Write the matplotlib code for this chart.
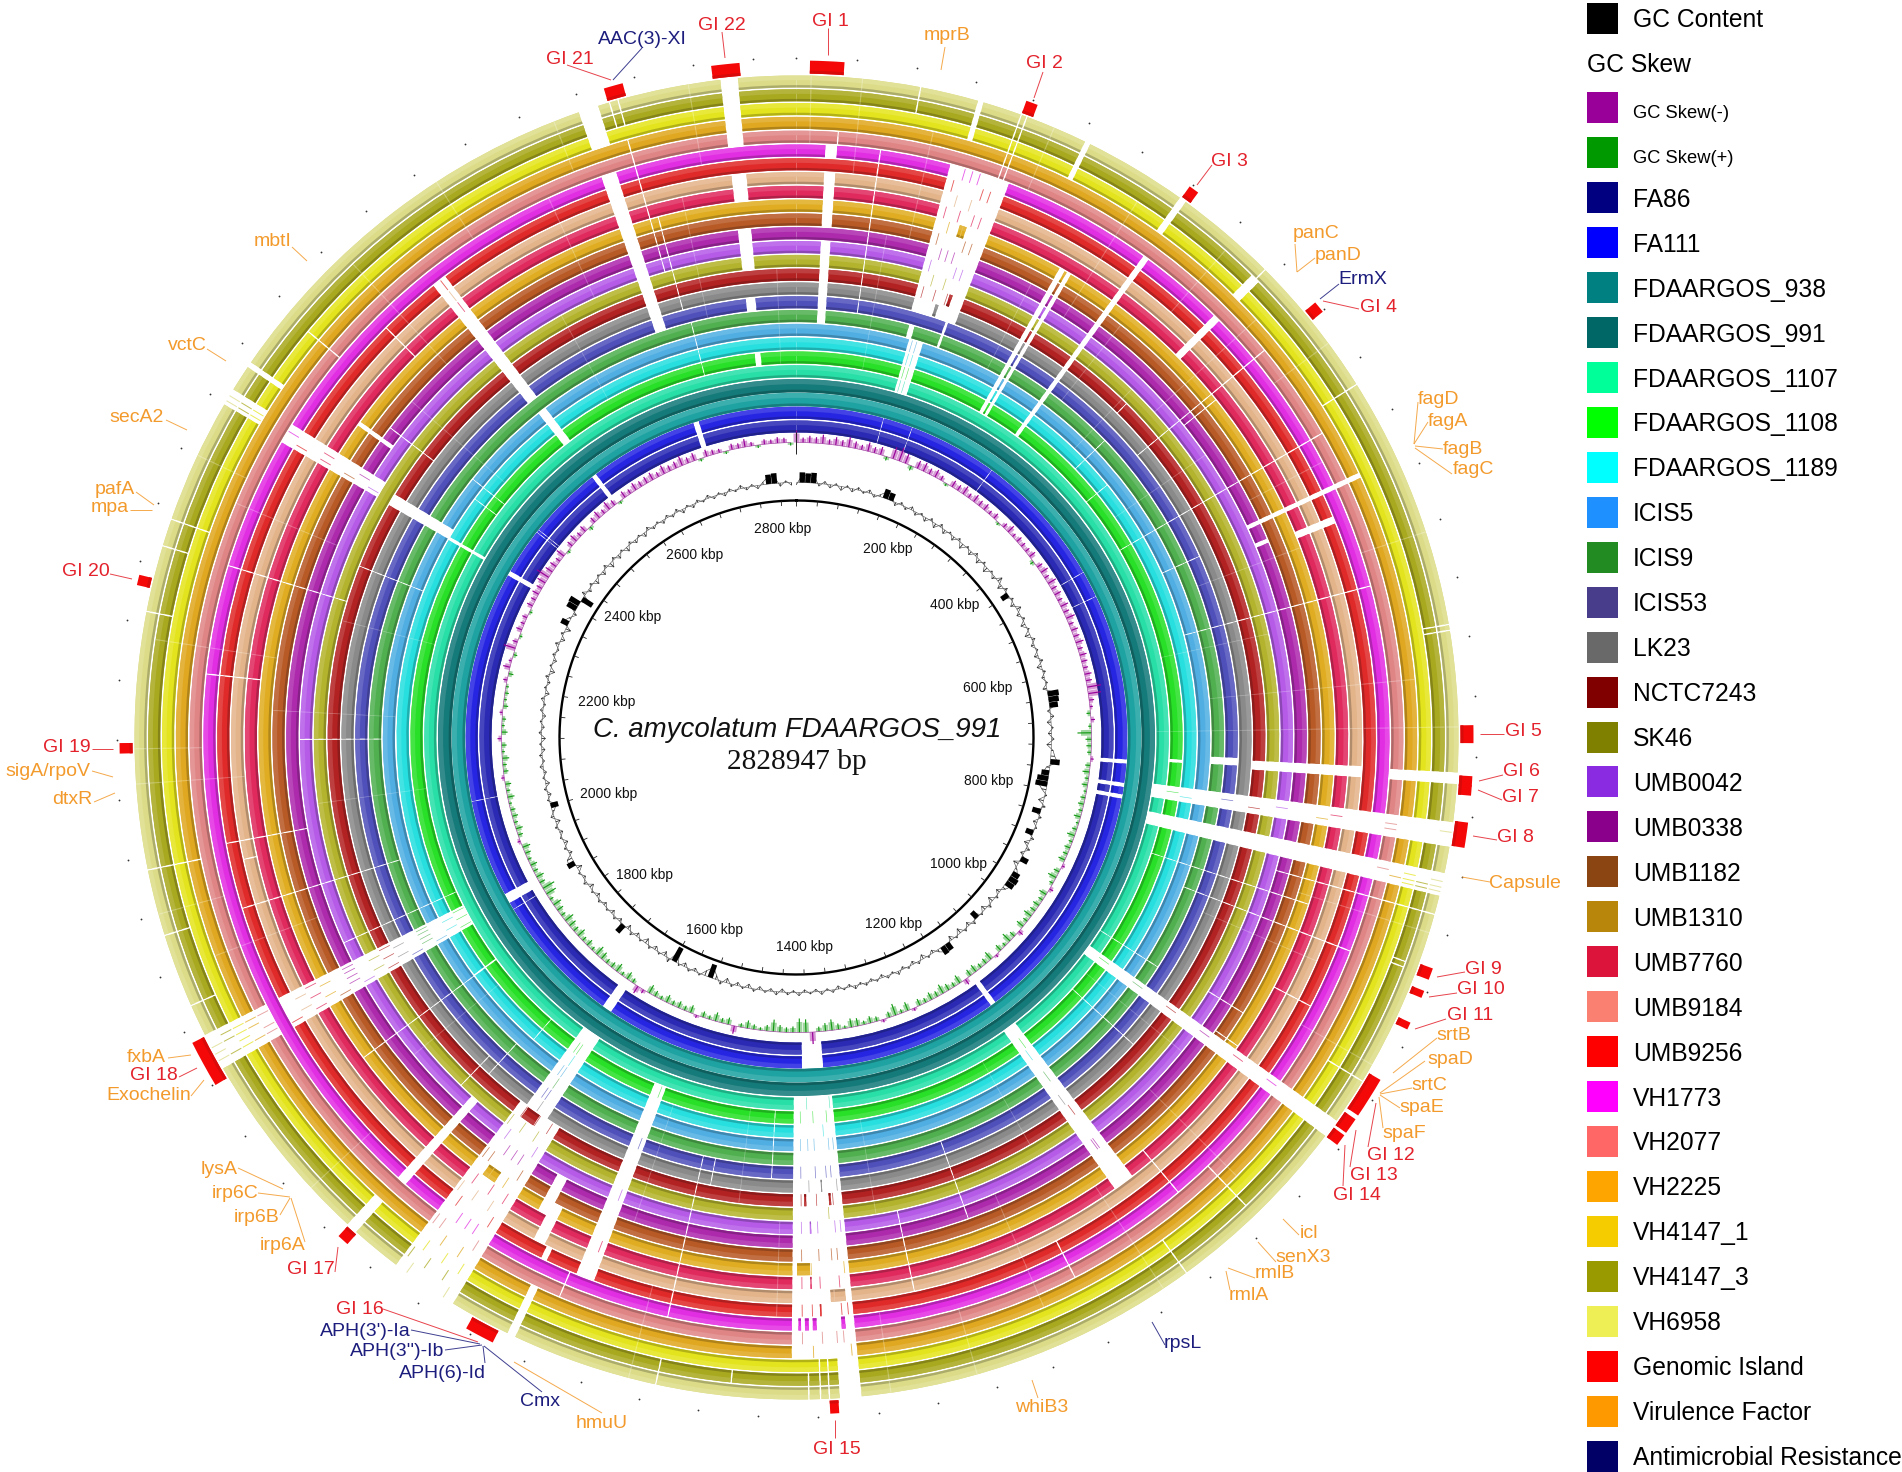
import numpy as np
import matplotlib
matplotlib.use("Agg")
import matplotlib.pyplot as plt

plt.rcParams['font.family'] = ['Liberation Sans', 'DejaVu Sans']

GENOME_KBP = 2828.947
# ---------- data ----------
STRAINS = ["FA86","FA111","FDAARGOS_938","FDAARGOS_991","FDAARGOS_1107","FDAARGOS_1108","FDAARGOS_1189",
           "ICIS5","ICIS9","ICIS53","LK23","NCTC7243","SK46","UMB0042","UMB0338","UMB1182","UMB1310",
           "UMB7760","UMB9184","UMB9256","VH1773","VH2077","VH2225","VH4147_1","VH4147_3","VH6958"]
STRAIN_LEGEND_COLORS = ["#000080","#0000ff","#008080","#006666","#00ff99","#00ff00","#00ffff","#1e90ff",
                        "#228b22","#483d8b","#696969","#800000","#808000","#8a2be2","#8b008b","#8b4513",
                        "#b8860b","#dc143c","#fa8072","#ff0000","#ff00ff","#ff6666","#ffa500","#f5cc00",
                        "#999900","#eeee55"]
RING_COLORS = ["#2a2ab4","#2626e2","#1ea2a2","#157a7a","#28dfa8","#28e028","#28dfdf","#50aee2",
               "#50b050","#5050bb","#8a8a8a","#b32222","#b3b32d","#b55be8","#ad2aad","#b85a26",
               "#e0ad22","#e02a5e","#e3b48a","#e02a2a","#e22ee2","#e08585","#e0a820","#e4e41e",
               "#a9a91f","#dcdc88"]

# ring ranges where a strain has no match: start kbp, end kbp, first ring, last ring
GAPS = [(22,31,8,13),(22,31,15,18),(22,31,20,20),(2777,2789,21,25),(2777,2789,17,18),(2777,2789,12,14),
        (2777,2787,9,9),(2780,2787,5,5),(2678,2692,23,25),(2678,2690,9,20),(125,129,23,25),(118,165,10,20),
        (155,158,8,9),(120,126,8,8),(124,140,4,7),(203,207,23,25),(278,283,23,25),(281,286,5,20),
        (350,357,23,24),(351,357,17,20),(230,235,5,16),(237,241,5,16),(531,537,17,19),(527,531,14,14),
        (509,513,14,22),(730,739,11,18),(731,739,21,25),(728,736,8,9),(733,737,5,5),(737,743,0,1),
        (769,775,0,1),(785,791,0,1),(765,782,4,25),(800,816,4,25),(985,998,4,25),(1120,1138,4,17),
        (1124,1132,0,1),(1370,1418,4,22),(1370,1385,23,25),(1378,1407,0,1),(1575,1590,5,19),(1612,1618,22,25),
        (1675,1700,4,10),(1660,1707,11,25),(1682,1696,0,1),(1630,1640,14,16),(1622,1632,16,18),(1615,1620,19,19),
        (1738,1746,13,20),(1742,1750,23,25),(1886,1912,5,19),(1886,1912,21,25),(1886,1900,0,1),
        (2356,2372,13,20),(2355,2367,7,11),(2354,2358,4,6),(2359,2371,23,25),(2352,2359,0,1),
        (2524,2536,9,19),(2526,2536,5,7),(2529,2536,0,1),(2686,2694,0,1),(2389,2393,23,25),(2400,2404,14,16)]
# hairline breaks: kbp, first ring, last ring
THIN = [(64,9,20),(85,24,25),(31,21,21),(156,21,25),(160,21,25),(120,0,1),(161,0,1),(284,0,1),(472,0,1),(509,0,1),
        (354,25,25),(362,6,8),(400,5,6),(351,11,11),(396,10,21),(402,14,16),(471,5,21),(454,23,25),(517,7,9),
        (591,7,20),(630,24,25),(634,24,25),(829,14,25),(873,8,20),(866,24,24),(870,24,24),(849,5,16),(962,4,8),
        (956,13,15),(924,17,19),(953,23,25),(982,15,16),(1131,23,25),(1137,4,8),(1460,24,24),(1500,9,10),
        (1513,9,20),(1511,24,25),(1595,20,21),(1748,8,10),(1737,5,6),(1760,10,12),(1835,5,16),(1836,5,6),
        (1930,5,13),(1934,24,25),(1985,24,25),(1987,8,19),(2024,18,18),(2031,22,25),(2034,0,1),(2039,14,19),
        (2208,24,25),(2254,12,20),(2254,24,25),(2273,23,25),(2409,5,6),(2415,11,14),(2425,5,7),(2434,21,23),
        (2475,17,19),(2700,24,25),(2706,24,25),(2705,13,22),(2712,10,16),(2717,5,8),(2423,0,1),(2427,0,1),
        (1876,0,1),(1890,0,1),(2290,7,11),(2120,8,13),(2170,17,20),(1200,19,21),(1260,9,14),(1320,13,18),
        (1440,5,9),(1070,21,24),(1100,17,20),(1040,5,10),(1392,23,25),(1398,23,25),(1406,24,25)]
# short matching pieces inside the gaps: start, end, ring
FRAGMENTS = [(1403,1414,16),(1375,1387,18),(1683,1695,16),(1683,1697,11),(139,145,16),(150,153,11),(140,143,10),
             (1377,1380,20),(1399,1402,20),(1405,1408,20),(1411,1413,20),(1395,1396,19),(1402,1403,17),
             (1381,1383,11),(1405,1407,11),(1401,1402,13),(1389,1390,10),(2538,2539,18)]
# faint narrow matches: kbp, first ring, last ring, ring step
SLIVERS = [(1892,21,25,1),(1897,21,25,2),(1902,22,25,1),(1907,21,24,1),(1890,5,19,2),(1895,6,19,2),(1900,5,19,3),
           (1905,6,19,2),(1909,5,19,3),(2362,23,25,1),(2366,23,25,1),(2360,13,20,2),(2366,14,20,3),(2531,17,19,1),
           (1668,11,25,2),(1675,12,25,2),(1682,11,25,3),(1690,12,25,2),(1698,11,25,2),(1704,12,24,3),(1688,5,10,1),
           (1692,5,9,2),(124,11,20,2),(130,12,20,2),(136,11,20,3),(142,12,20,2),(148,11,20,2),(154,13,20,2),
           (128,4,7,1),(133,4,7,1),(1374,4,22,3),(1379,5,22,2),(1384,6,22,3),(1395,5,22,2),(1402,4,22,3),
           (1410,5,22,2),(806,21,25,2),(810,22,25,1),(813,23,25,1),(772,5,25,4),(776,6,24,5),(1128,5,16,3),
           (1130,6,16,4),(990,5,20,3),(1580,5,19,4)]
# faint pale lines across rings: kbp, first ring, last ring
FAINT = [(45,19,25),(80,5,14),(100,15,22),(180,21,25),(215,8,14),(255,14,23),(300,9,15),(325,19,24),(345,7,12),
         (375,13,22),(420,21,25),(435,6,13),(490,15,20),(545,9,16),(565,21,25),(610,5,12),(665,8,22),(700,4,25),
         (842,16,25),(890,10,18),(940,20,25),(1015,5,13),(1060,14,22),(1150,17,25),(1180,5,11),(1230,14,22),
         (1290,21,25),(1340,6,12),(1350,20,25),(1430,13,19),(1470,5,11),(1530,19,25),(1560,6,14),(1785,20,25),
         (1810,6,13),(1960,15,22),(2000,21,25),(2060,5,12),(2090,18,25),(2145,7,15),(2190,16,24),(2235,5,11),
         (2300,14,21),(2320,22,25),(2445,6,14),(2490,15,24),(2570,21,25),(2600,6,12),(2635,13,20),(2660,22,25),
         (2735,9,17),(2755,20,25),(2810,5,11),(10,21,25),(2114,21,25)]

GI_START = [9,156,279,393,699,733,739,764,864,880,903,946,977,990,1386,1624,1741,1879,2111,2224,2699,2772]
GI_END   = [32,164,286,401,711,740,746,781,872,885,908,974,988,998,1392,1644,1749,1911,2118,2231,2712,2791]

TICK_LABELS = ["200 kbp","400 kbp","600 kbp","800 kbp","1000 kbp","1200 kbp","1400 kbp","1600 kbp","1800 kbp",
               "2000 kbp","2200 kbp","2400 kbp","2600 kbp","2800 kbp"]

# GC content deviation per 10 kbp bin
GC_CONTENT = [-3,12,11,12,-4,4,-5,3,-6,3,-5,4,-3,5,-4,3,11,9,-5,4,
  -4,5,-5,3,-6,4,-7,5,-6,3,-6,4,-8,3,-6,5,-7,4,-8,3,
  -5,8,-7,5,-9,4,-6,7,-5,4,-7,3,-8,5,-5,3,-6,5,-7,4,
  -4,3,-6,13,12,10,-4,5,-6,3,-5,4,-7,3,6,11,-5,-9,-13,-14,
  -7,3,-8,5,-10,4,-6,3,-9,5,-7,6,-5,9,-8,3,9,11,10,5,
  -6,4,-8,5,-7,3,-9,5,-6,4,-8,3,-7,9,10,4,-5,3,-7,4,
  -5,3,-4,5,-3,4,-5,3,-4,4,-3,5,-4,3,-5,4,-3,5,-4,3,
  -4,5,-3,4,-5,5,-4,3,-5,4,-6,3,-5,4,-7,5,-6,-16,-8,3,
  -5,4,-6,3,-18,6,-7,3,-6,4,-8,3,-6,5,-7,11,-5,4,-6,3,
  -5,4,-6,3,-7,5,-4,3,-8,9,8,-5,4,-6,3,-5,4,-7,5,-3,
  -9,3,-5,4,-6,3,-4,5,-3,4,-5,3,-6,4,-4,3,-5,4,-3,5,
  -6,3,-4,5,-7,3,-5,4,-3,6,-6,4,-8,9,3,-5,12,13,-14,6,
  -5,4,-7,3,-6,5,-8,4,-6,3,-7,4,-5,3,-6,5,-4,3,-5,4,
  -4,5,-6,3,-5,4,-3,5,-4,3,-5,4,-3,5,-4,3,-5,4,11,12,
  -5,3,-4]
# GC skew per 10 kbp bin: positive is GC Skew(+), negative is GC Skew(-)
GC_SKEW = [-12,-5,-7,-6,-9,-5,-8,-6,-10,-7,-5,-9,-6,-8,4,-12,-14,-10,5,-8,
  -9,-6,-8,-5,3,-7,-6,-9,-5,-8,-6,-7,-4,-6,3,-5,-8,-4,-6,-5,
  -5,-7,4,-6,-8,-5,-9,-6,-7,-5,-8,-6,-9,-5,-7,-6,-8,-5,-7,-6,
  -5,-7,-6,-14,-13,-5,-3,4,-4,3,14,6,5,4,-3,5,7,4,6,3,
  5,6,4,7,3,5,8,4,6,5,7,-3,6,9,4,-4,8,5,7,6,
  9,5,8,-5,6,10,4,7,-3,9,6,5,8,7,-6,9,5,7,10,6,
  8,5,7,-3,9,4,12,6,-3,5,7,4,8,9,3,6,11,8,5,-12,
  13,14,6,5,7,12,6,3,5,8,4,-8,7,5,9,4,6,-3,8,5,
  7,5,8,4,6,9,-4,-8,5,8,4,9,6,5,8,10,4,7,5,9,
  6,8,10,5,7,9,4,11,13,6,8,5,7,4,6,8,-3,5,7,4,
  6,5,3,7,4,6,-3,5,4,7,3,5,-4,6,3,4,-3,5,3,4,
  3,-4,5,-7,-3,4,-12,-5,3,-6,-4,-5,3,-6,-5,-7,-6,-9,-14,-8,
  -7,-5,-9,3,-6,-8,-5,-7,4,-6,-8,-5,-9,-6,3,-7,-5,-8,-6,-7,
  -8,-5,-9,-6,-7,-10,-6,-8,3,-7,-5,-4,3,-6,-5,-8,-4,3,-5,-4,
  -6,-5,3]

# ---------- layout (pixels of the 1902x1472 picture) ----------
W, H = 1902, 1472
CX, CY, RMAX = 796.5, 737.5, 737.0
RED, ORANGE, NAVY = "#e3222c", "#f39a2c", "#1d1d7d"
TICK_LABEL_POS = [(888,548),(955,604),(988,687),(989,780),(958,863),(894,923),(805,946),(714,929),(644,874),
                  (609,793),(607,701),(633,616),(695,554),(783,528)]
LABELS = [("GI 1",830,21,RED,(828,28,828,55)),("GI 2",1044,63,RED,(1043,72,1034,98)),
 ("GI 3",1229,161,RED,(1212,165,1197,185)),("GI 4",1378,306,RED,(1359,309,1323,301)),
 ("GI 5",1523,730,RED,(1480,734,1504,734)),("GI 6",1521,771,RED,(1479,781,1503,775)),
 ("GI 7",1520,796,RED,(1478,790,1502,800)),("GI 8",1515,836,RED,(1473,836,1497,840)),
 ("GI 9",1483,968,RED,(1437,977,1465,972)),("GI 10",1481,989,RED,(1429,997,1457,993)),
 ("GI 11",1470,1014,RED,(1415,1029,1446,1019)),("GI 12",1391,1154,RED,(1376,1103,1368,1147)),
 ("GI 13",1374,1175,RED,(1356,1130,1350,1167)),("GI 14",1357,1195,RED,(1345,1145,1343,1186)),
 ("GI 15",837,1448,RED,(835,1420,835,1438)),("GI 16",360,1308,RED,(383,1309,478,1342)),
 ("GI 17",311,1268,RED,(335,1272,338,1247)),("GI 18",154,1075,RED,(179,1077,197,1068)),
 ("GI 19",67,746,RED,(92,749,113,749)),("GI 20",86,570,RED,(110,574,132,579)),
 ("GI 21",570,58,RED,(567,65,611,80)),("GI 22",722,25,RED,(722,32,725,58)),
 ("AAC(3)-XI",642,38,NAVY,(642,48,613,80)),("ErmX",1363,279,NAVY,(1339,284,1320,299)),
 ("APH(3')-Ia",365,1330,NAVY,(411,1330,480,1344)),("APH(3'')-Ib",397,1350,NAVY,(445,1350,482,1345)),
 ("APH(6)-Id",442,1372,NAVY,(485,1363,483,1346)),("Cmx",540,1401,NAVY,(542,1392,484,1346)),
 ("rpsL",1183,1342,NAVY,(1152,1322,1165,1345)),
 ("mprB",947,35,ORANGE,(945,47,941,70)),("panC",1316,232,ORANGE,(1295,244,1297,272)),
 ("panD",1338,255,ORANGE,(1315,258,1297,272)),("fagD",1439,399,ORANGE,(1418,402,1414,444)),
 ("fagA",1448,420,ORANGE,(1428,422,1414,444)),("fagB",1463,448,ORANGE,(1443,449,1415,446)),
 ("fagC",1473,469,ORANGE,(1452,474,1415,448)),("Capsule",1525,882,ORANGE,(1462,877,1490,882)),
 ("srtB",1454,1035,ORANGE,(1393,1073,1437,1038)),("spaD",1450,1058,ORANGE,(1380,1093,1425,1061)),
 ("srtC",1429,1085,ORANGE,(1380,1094,1412,1088)),("spaE",1422,1106,ORANGE,(1380,1095,1400,1108)),
 ("spaF",1404,1132,ORANGE,(1379,1097,1383,1128)),("icl",1309,1232,ORANGE,(1283,1219,1299,1235)),
 ("senX3",1303,1257,ORANGE,(1258,1242,1276,1262)),("rmlB",1275,1273,ORANGE,(1228,1268,1255,1278)),
 ("rmlA",1249,1295,ORANGE,(1226,1271,1230,1290)),("whiB3",1042,1406,ORANGE,(1032,1380,1038,1398)),
 ("hmuU",602,1422,ORANGE,(602,1413,514,1362)),("irp6A",283,1245,ORANGE,(305,1242,291,1198)),
 ("irp6B",257,1217,ORANGE,(280,1215,290,1198)),("irp6C",235,1193,ORANGE,(258,1193,290,1197)),
 ("lysA",219,1168,ORANGE,(238,1168,283,1189)),("Exochelin",149,1094,ORANGE,(191,1096,204,1080)),
 ("fxbA",146,1056,ORANGE,(168,1058,191,1055)),("dtxR",72,799,ORANGE,(94,802,115,793)),
 ("sigA/rpoV",47.5,770,ORANGE,(92,771,113,777)),("mpa",110,506,ORANGE,(130,510,152,510)),
 ("pafA",115,489,ORANGE,(136,492,154,505)),("secA2",137,416,ORANGE,(166,420,187,430)),
 ("vctC",187,345,ORANGE,(207,349,226,361)),("mbtI",273,241,ORANGE,(292,247,307,261))]

fig = plt.figure(figsize=(W/100, H/100), dpi=100, facecolor="white")
ax = fig.add_axes([(CX-RMAX)/W, (H-CY-RMAX)/H, 2*RMAX/W, 2*RMAX/H], projection="polar")
ax.set_theta_zero_location("N"); ax.set_theta_direction(-1)
ax.set_ylim(0, RMAX); ax.axis("off")

def th(k):
    return np.asarray(k, float)/GENOME_KBP*2*np.pi

def mix(c, other, t):
    a = np.array(matplotlib.colors.to_rgb(c)); b = np.array(matplotlib.colors.to_rgb(other))
    return tuple(a*(1-t)+b*t)

def ring_edges(k):
    rout = 662-13.8*(25-k)
    return rout-(13.2 if k in (2,3) else 12.0), rout

def segments(k):
    iv = [(s,e) for s,e,lo,hi in GAPS if lo<=k<=hi]
    iv += [(b-0.55,b+0.55) for b,lo,hi in THIN if lo<=k<=hi]
    if k in (2,3):
        iv = []
    iv.sort()
    out, pos = [], 0.0
    for s,e in iv:
        if s>pos: out.append((pos,s))
        pos = max(pos,e)
    if pos<GENOME_KBP: out.append((pos,GENOME_KBP))
    out += [(s,e) for s,e,r in FRAGMENTS if r==k]
    return np.array(out)

def draw_band(seg, r0, r1, color, z, alpha=1.0):
    ax.bar(th(seg[:,0]), r1-r0, width=th(seg[:,1]-seg[:,0]), bottom=r0, align="edge",
           color=[color], linewidth=0, zorder=z, alpha=alpha)

for k,c in enumerate(RING_COLORS):
    r0,r1 = ring_edges(k)
    seg = segments(k)
    t = r1-r0
    draw_band(seg, r0, r1, c, 2)
    draw_band(seg, r1-0.38*t, r1, mix(c,"white",0.13), 3)
    draw_band(seg, r0, r0+0.2*t, mix(c,"black",0.22), 3)

for b,lo,hi,st in SLIVERS:
    for k in range(lo,hi+1,st):
        if k in (2,3): continue
        r0,r1 = ring_edges(k)
        ax.bar(th(b-0.35), r1-r0, width=th(0.7), bottom=r0, align="edge",
               color=[mix(RING_COLORS[k],"white",0.25)], linewidth=0, zorder=4)

for b,lo,hi in FAINT:
    for k in range(lo,hi+1):
        if k in (2,3): continue
        r0,r1 = ring_edges(k)
        ax.bar(th(b-0.4), r1-r0, width=th(0.8), bottom=r0, align="edge",
               color=["white"], alpha=0.28, linewidth=0, zorder=4)

# genomic islands
gs, ge = np.array(GI_START,float), np.array(GI_END,float)
ax.bar(th(gs), 13, width=th(ge-gs), bottom=664, align="edge", color=["#f50808"], linewidth=0, zorder=5)
ax.bar(th(gs), 3, width=th(ge-gs), bottom=664, align="edge", color=["#d90a0a"], linewidth=0, zorder=6)

# GC skew: pale body per bin with a solid core spike
bins = np.arange(len(GC_SKEW))*10.0
sk = np.array(GC_SKEW,float)
pos, neg = sk>0, sk<0
R_SKEW, R_GC = 295.0, 255.0
for mask,col in ((neg,"#990099"),(pos,"#119911")):
    ax.bar(th(bins[mask]), -sk[mask]*0.75, width=th(9.0), bottom=R_SKEW, align="center", color=[col], alpha=0.4, linewidth=0, zorder=5)
    ax.bar(th(bins[mask]), -sk[mask], width=th(1.8), bottom=R_SKEW, align="center", color=[col], linewidth=0, zorder=5)
ax.plot(th(bins), np.full(bins.size, R_SKEW), color="#a040a0", lw=0.45, zorder=5)

# GC content: thin trace with solid blocks where the deviation is large
gbins = np.arange(len(GC_CONTENT))*10.0
gc = np.array(GC_CONTENT,float)
amp = 0.65
ax.plot(th(gbins), R_GC+amp*gc, color="#333333", lw=0.4, zorder=5)
ax.vlines(th(gbins), R_GC, R_GC+amp*gc, color="#222222", lw=0.6, zorder=5)
ax.plot(th(gbins), np.full(gbins.size, R_GC), color="#555555", lw=0.4, zorder=5)
big = np.abs(gc)>=9
ax.bar(th(gbins[big]), gc[big]*0.85, width=th(9.5), bottom=R_GC, align="center", color=["black"], linewidth=0, zorder=5)

# scale circle, ticks, outer marks
tt = np.linspace(0, 2*np.pi, 720)
ax.plot(tt, np.full(tt.size, 237.0), color="black", lw=1.7, zorder=6)
marks = np.arange(0, 2820, 40.0)
ax.vlines(th(marks), 232, 237, color="#222222", lw=0.6, zorder=6)
ax.vlines([0.0], 284, 306, color="#222222", lw=0.7, zorder=6)
ax.plot(th(marks), np.full(marks.size, 680.0), ls="none", marker="o", ms=1.3, mew=0, color="#333333", zorder=6)

# overlay in pixels: texts, connectors, legend
ov = fig.add_axes([0,0,1,1], facecolor="none")
ov.set_xlim(0,W); ov.set_ylim(H,0); ov.axis("off")

for s,(x,y) in zip(TICK_LABELS, TICK_LABEL_POS):
    ov.text(x,y+1,s,ha="center",va="center",fontsize=10,color="#111111")
ov.text(797,730,"C. amycolatum FDAARGOS_991",ha="center",va="center",fontsize=19.9,style="italic",color="#111111")
ov.text(797,762,"2828947 bp",ha="center",va="center",fontsize=21.2,family="Liberation Serif",color="#111111")

for s,x,y,c,(x0,y0,x1,y1) in LABELS:
    ov.plot([x0,x1],[y0,y1],color=c,lw=0.7,alpha=0.85,solid_capstyle="butt")
    ov.text(x,y+1,s,ha="center",va="center",fontsize=14,color=c)

LEG = ([("GC Content","#000000",17.7,2)]+[("GC Skew",None,17.7,2)]+
       [("GC Skew(-)","#990099",13.2,6),("GC Skew(+)","#009900",13.2,6)]+
       [(s,c,17.7,2) for s,c in zip(STRAINS,STRAIN_LEGEND_COLORS)]+
       [("Genomic Island","#ff0000",17.7,2),("Virulence Factor","#ff9900",17.7,2),("Antimicrobial Resistance","#000066",17.7,2)])
for i,(s,c,fs,dy) in enumerate(LEG):
    y = 18+44.94*i
    if c is None:
        ov.text(1587,y+dy,s,ha="left",va="center",fontsize=fs,color="black")
    else:
        ov.add_patch(plt.Rectangle((1587,y-15.5),31,31,facecolor=c,edgecolor="none"))
        ov.text(1633,y+dy,s,ha="left",va="center",fontsize=fs,color="black")

fig.savefig("out.png", dpi=100)
